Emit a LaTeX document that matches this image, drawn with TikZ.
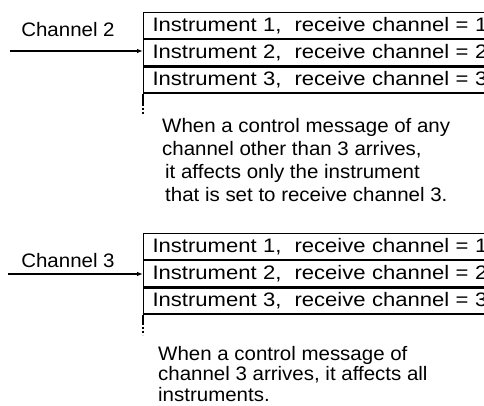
\documentclass[tikz,border=0pt]{standalone}
\usepackage{fontspec}
\setmainfont{Liberation Sans}
\newfontfamily\rowfont[FakeStretch=1.13]{Liberation Sans}
\newfontfamily\notefont[FakeStretch=1.05]{Liberation Sans}
\usepackage{tikz}
\usetikzlibrary{
  positioning,
  arrows.meta,
  calc
}
\tikzset{
  >=Latex,
  feed/.style={-{Latex[length=6pt,width=4.5pt]},line width=1.1pt},
  rowbox/.style={rectangle,draw,line width=1.2pt,minimum width=400pt,minimum height=26pt,
    text width=382pt,align=left,inner xsep=9pt,inner ysep=0pt,
    font=\rowfont\fontsize{19.5}{22}\selectfont},
  chlabel/.style={inner sep=0pt,font=\notefont\fontsize{19.5}{22}\selectfont},
  note/.style={align=left,inner sep=0pt,font=\notefont\fontsize{19.5}{23}\selectfont},
  tail/.style={line width=1.2pt}
}
\begin{document}
\begin{tikzpicture}[x=1pt,y=-1pt]
    \useasboundingbox (0,0) rectangle (484,406);
    \clip (0,0) rectangle (484,406);

    % channel 2 arrives
    \node[rowbox,anchor=north west] (a1) at (143,12) {Instrument 1,\ \ receive channel = 1};
    \node[rowbox,below=0pt of a1] (a2) {Instrument 2,\ \ receive channel = 2};
    \node[rowbox,below=0pt of a2] (a3) {Instrument 3,\ \ receive channel = 3};
    \node[chlabel,anchor=base] (ch2) at (68,37) {Channel 2};
    \coordinate (in2) at (10,51);
    \draw[feed] (in2) -- (in2 -| a2.west);
    \draw[tail] (a3.south west) -- ++(0,-10pt) coordinate (t1);
    \draw[tail,dash pattern=on 2pt off 2pt] (t1) -- ++(0,-10pt);
    \node[note,anchor=north west] (n1) at (162,118) {When a control message of any\\
      channel other than 3 arrives,\\
      \hspace*{3pt}it affects only the instrument\\
      \hspace*{3pt}that is set to receive channel 3.};

    % channel 3 arrives
    \node[rowbox,anchor=north west] (b1) at (143,233) {Instrument 1,\ \ receive channel = 1};
    \node[rowbox,below=0pt of b1] (b2) {Instrument 2,\ \ receive channel = 2};
    \node[rowbox,below=0pt of b2] (b3) {Instrument 3,\ \ receive channel = 3};
    \node[chlabel,anchor=base] (ch3) at (68,267) {Channel 3};
    \coordinate (in3) at (8,274);
    \draw[feed] (in3) -- (in3 -| b2.west);
    \draw[tail] (b3.south west) -- ++(0,-8pt) coordinate (t2);
    \draw[tail,dash pattern=on 2pt off 2pt] (t2) -- ++(0,-12pt);
    \node[note,anchor=north west,font=\notefont\fontsize{19.5}{20.5}\selectfont] (n2) at (158,346) {When a control message of\\
      channel 3 arrives, it affects all\\
      instruments.};
\end{tikzpicture}
\end{document}
